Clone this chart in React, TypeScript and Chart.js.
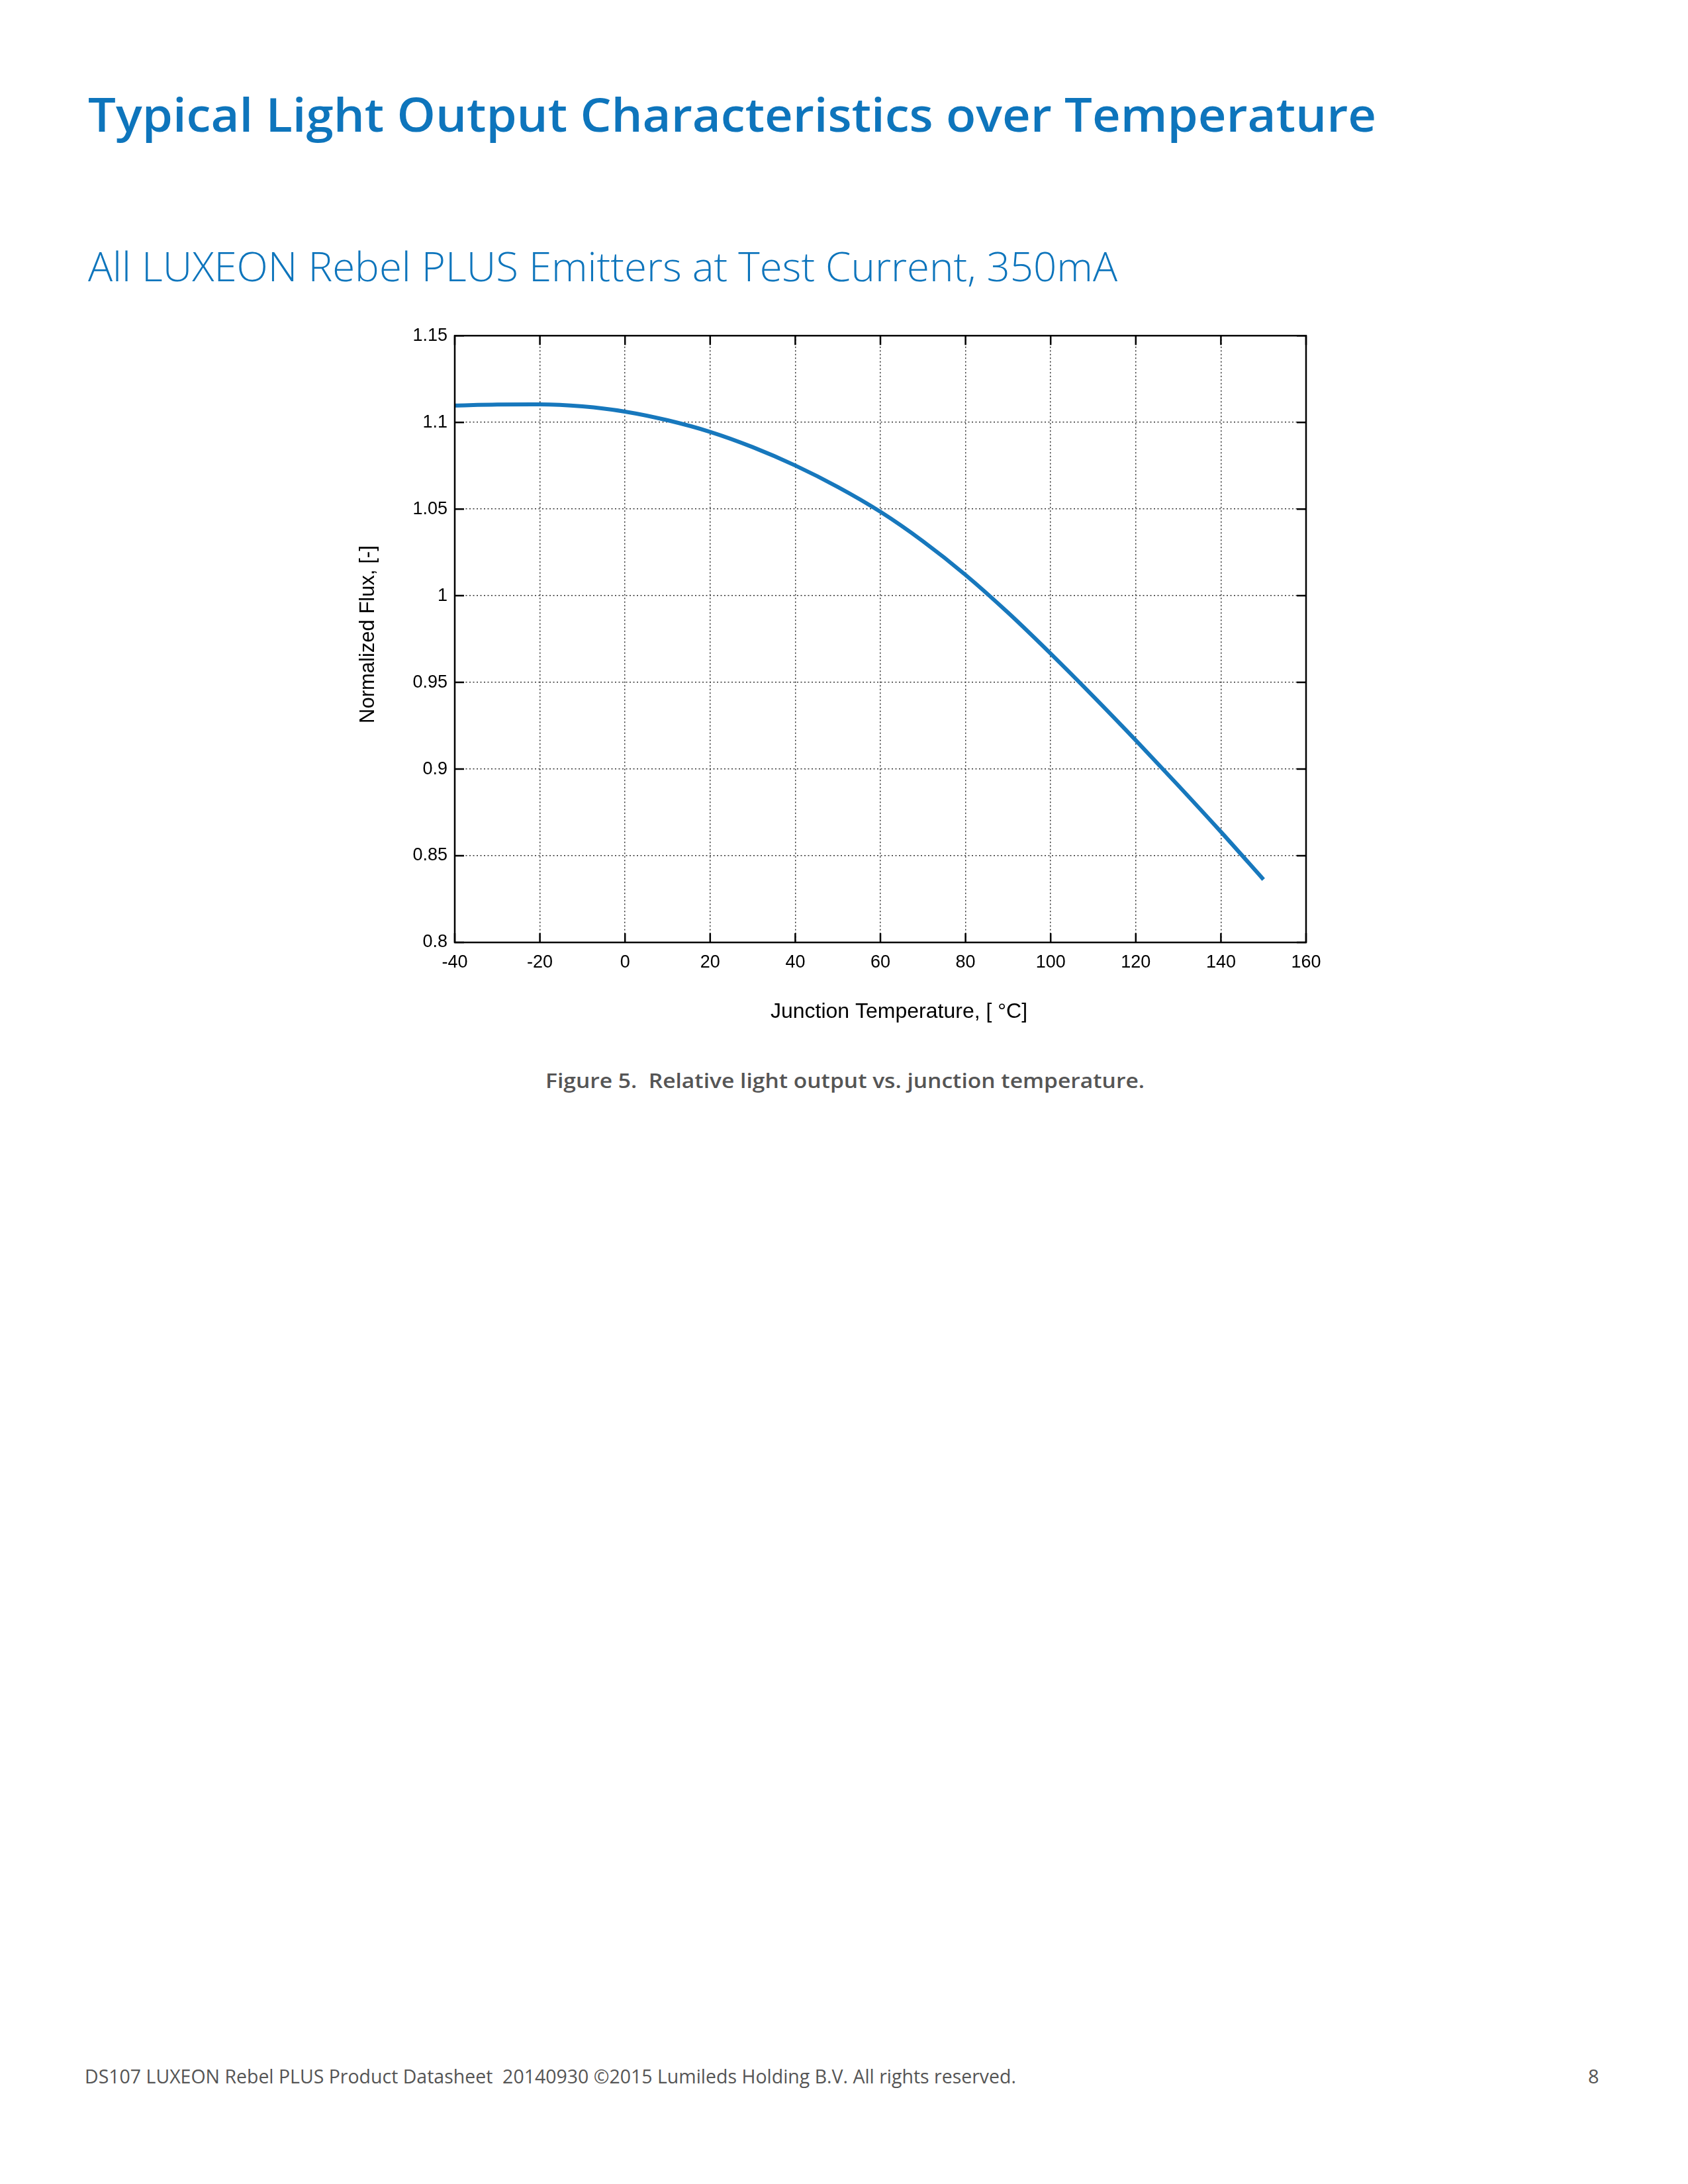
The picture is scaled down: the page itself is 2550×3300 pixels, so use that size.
import React, { useEffect, useRef } from 'react';
import { Chart, registerables } from 'chart.js';

Chart.register(...registerables);

// ---- Data ----
const temperatures = [-40, -30, -20, -10, 0, 10, 20, 30, 40, 50, 60, 70, 80, 90, 100, 110, 120, 130, 140, 150];
const normalizedFlux = [
  1.1097, 1.1103, 1.1104, 1.1092, 1.1062, 1.1012, 1.0945, 1.0857, 1.0751, 1.0627,
  1.0484, 1.0314, 1.012, 0.9902, 0.9666, 0.942, 0.9166, 0.8905, 0.8638, 0.8363,
];
const xTickValues = [-40, -20, 0, 20, 40, 60, 80, 100, 120, 140, 160];
const xTickLabels = ['-40', '-20', '0', '20', '40', '60', '80', '100', '120', '140', '160'];
const yTickValues = [0.8, 0.85, 0.9, 0.95, 1.0, 1.05, 1.1, 1.15];
const yTickLabels = ['0.8', '0.85', '0.9', '0.95', '1', '1.05', '1.1', '1.15'];

const pageTitle = 'Typical Light Output Characteristics over Temperature';
const pageSubtitle = 'All LUXEON Rebel PLUS Emitters at Test Current, 350mA';
const xAxisTitle = 'Junction Temperature, [ \u00B0C]';
const yAxisTitle = 'Normalized Flux, [-]';
const figureCaption = 'Figure 5.\u00A0 Relative light output vs. junction temperature.';
const footerText = 'DS107 LUXEON Rebel PLUS Product Datasheet\u00A0 20140930 \u00A92015 Lumileds Holding B.V. All rights reserved.';
const pageNumber = '8';

const BLUE = '#0e75bc';
const CHART_FONT = "'Liberation Sans', Arial, sans-serif";
const PAGE_FONT = "'Open Sans', 'Noto Sans', sans-serif";

const CANVAS_LEFT = 500;
const CANVAS_TOP = 480;
const CANVAS_W = 1520;
const CANVAS_H = 1120;

const framePlugin = {
  id: 'frameAndInnerTicks',
  afterDraw(chart: any) {
    const { ctx, chartArea: a, scales } = chart;
    const tl = 14;
    ctx.save();
    ctx.strokeStyle = '#000';
    ctx.lineWidth = 2.5;
    ctx.beginPath();
    for (const v of xTickValues) {
      const px = scales.x.getPixelForValue(v);
      ctx.moveTo(px, a.bottom);
      ctx.lineTo(px, a.bottom - tl);
      ctx.moveTo(px, a.top);
      ctx.lineTo(px, a.top + tl);
    }
    for (const v of yTickValues) {
      const py = scales.y.getPixelForValue(v);
      ctx.moveTo(a.left, py);
      ctx.lineTo(a.left + tl, py);
      ctx.moveTo(a.right, py);
      ctx.lineTo(a.right - tl, py);
    }
    ctx.stroke();
    ctx.strokeRect(a.left, a.top, a.right - a.left, a.bottom - a.top);

    // axis titles
    ctx.fillStyle = '#000';
    ctx.textAlign = 'center';
    ctx.textBaseline = 'alphabetic';
    ctx.font = `32px ${CHART_FONT}`;
    ctx.fillText(xAxisTitle, (a.left + a.right) / 2 + 28, a.bottom + 114);
    ctx.font = `31px ${CHART_FONT}`;
    ctx.translate(a.left - 122, (a.top + a.bottom) / 2 - 7);
    ctx.rotate(-Math.PI / 2);
    ctx.fillText(yAxisTitle, 0, 0);
    ctx.restore();
  },
};

export default function App() {
  const canvasRef = useRef<HTMLCanvasElement>(null);

  useEffect(() => {
    const canvas = canvasRef.current;
    if (!canvas) return;
    const points = temperatures.map((t, i) => ({ x: t, y: normalizedFlux[i] }));
    const chart = new Chart(canvas, {
      type: 'line',
      data: {
        datasets: [
          {
            label: 'Normalized Flux',
            data: points,
            borderColor: '#1778bd',
            borderWidth: 6,
            borderCapStyle: 'butt',
            pointRadius: 0,
            fill: false,
            cubicInterpolationMode: 'monotone',
          },
        ],
      },
      options: {
        animation: false,
        responsive: false,
        devicePixelRatio: 1,
        layout: { padding: { top: 24, right: 47, left: 0, bottom: 0 } },
        plugins: {
          legend: { display: false },
          tooltip: { enabled: false },
        },
        scales: {
          x: {
            type: 'linear',
            min: -40,
            max: 160,
            afterBuildTicks: (scale: any) => {
              scale.ticks = xTickValues.map((v) => ({ value: v }));
            },
            afterFit: (scale: any) => {
              scale.height = 176;
            },
            ticks: {
              color: '#000',
              font: { family: CHART_FONT, size: 27 },
              padding: 14,
              maxRotation: 0,
              autoSkip: false,
              callback: (value: any) => {
                const i = xTickValues.indexOf(Number(value));
                return i >= 0 ? xTickLabels[i] : '';
              },
            },
            grid: {
              display: true,
              drawTicks: false,
              color: '#333',
              lineWidth: 1.5,
            },
            border: { display: false, dash: [2, 3.5] },
            title: { display: false },
          },
          y: {
            type: 'linear',
            min: 0.8,
            max: 1.15,
            afterBuildTicks: (scale: any) => {
              scale.ticks = yTickValues.map((v) => ({ value: v }));
            },
            afterFit: (scale: any) => {
              scale.width = 187;
            },
            ticks: {
              color: '#000',
              font: { family: CHART_FONT, size: 27 },
              padding: 11,
              autoSkip: false,
              callback: (value: any) => {
                const i = yTickValues.findIndex((v) => Math.abs(v - Number(value)) < 1e-6);
                return i >= 0 ? yTickLabels[i] : '';
              },
            },
            grid: {
              display: true,
              drawTicks: false,
              color: '#333',
              lineWidth: 1.5,
            },
            border: { display: false, dash: [2, 3.5] },
            title: { display: false },
          },
        },
      },
      plugins: [framePlugin],
    } as any);
    return () => chart.destroy();
  }, []);

  return (
    <div
      style={{
        position: 'absolute',
        left: 0,
        top: 0,
        width: 2550,
        height: 3300,
        background: '#fff',
        overflow: 'hidden',
      }}
    >
      <svg
        width={2550}
        height={3300}
        style={{ position: 'absolute', left: 0, top: 0 }}
        xmlns="http://www.w3.org/2000/svg"
      >
        <text x={133} y={199} fontFamily={PAGE_FONT} fontWeight={600} fontSize={71} fill={BLUE} textLength={1946} lengthAdjust="spacingAndGlyphs">
          {pageTitle}
        </text>
        <text x={133} y={425} fontFamily={PAGE_FONT} fontWeight={300} fontSize={60} fill={BLUE} textLength={1555} lengthAdjust="spacingAndGlyphs">
          {pageSubtitle}
        </text>
        <text x={824} y={1644} fontFamily={PAGE_FONT} fontWeight={600} fontSize={31} fill="#555" textLength={905} lengthAdjust="spacingAndGlyphs">
          {figureCaption}
        </text>
        <text x={128} y={3148} fontFamily={PAGE_FONT} fontWeight={400} fontSize={29} fill="#555" textLength={1407} lengthAdjust="spacingAndGlyphs">
          {footerText}
        </text>
        <text x={2399} y={3148} fontFamily={PAGE_FONT} fontWeight={400} fontSize={29} fill="#555">
          {pageNumber}
        </text>
      </svg>
      <canvas
        ref={canvasRef}
        width={CANVAS_W}
        height={CANVAS_H}
        style={{ position: 'absolute', left: CANVAS_LEFT, top: CANVAS_TOP, width: CANVAS_W, height: CANVAS_H }}
      />
    </div>
  );
}
